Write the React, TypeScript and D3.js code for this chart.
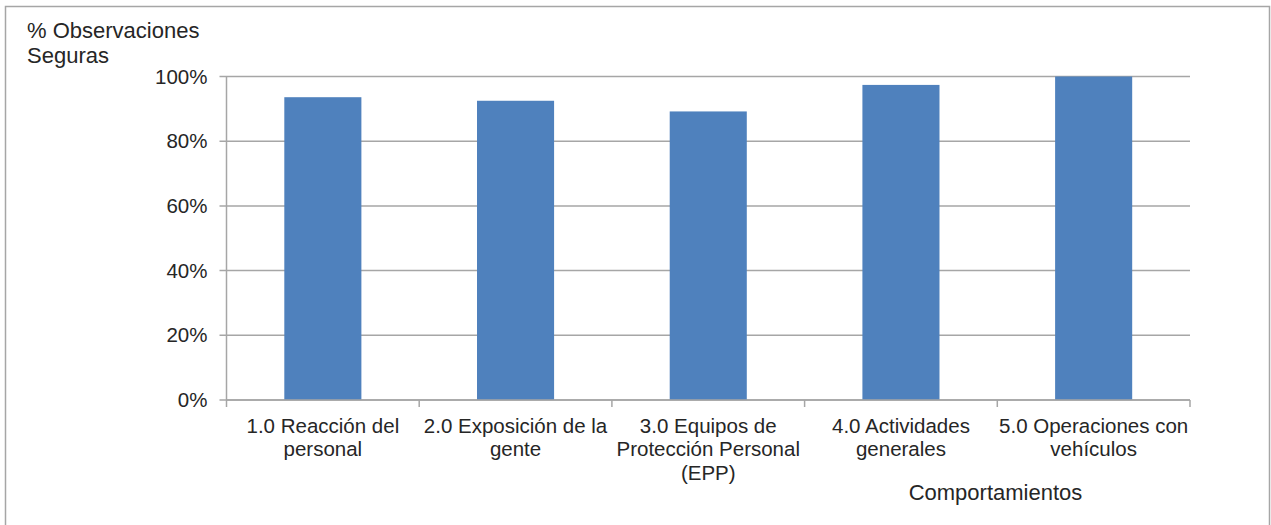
import React from 'react';
import * as d3 from 'd3';

const categories = [
  ['1.0 Reacción del', 'personal'],
  ['2.0 Exposición de la', 'gente'],
  ['3.0 Equipos de', 'Protección Personal', '(EPP)'],
  ['4.0 Actividades', 'generales'],
  ['5.0 Operaciones con', 'vehículos'],
];
const values = [0.936, 0.925, 0.892, 0.974, 1.0];
const yTicks = [0, 0.2, 0.4, 0.6, 0.8, 1.0];

const W = 1271, H = 525;
const left = 226.5, right = 1190, top = 76.5, bottom = 400;
const font = '"Liberation Sans", Arial, sans-serif';
const textColor = '#262626';
const gridColor = '#a6a6a6';

const App = () => {
  const keys = categories.map((c) => c.join(' '));
  const x = d3.scaleBand<string>().domain(keys).range([left, right]).paddingInner(0.6).paddingOuter(0.3);
  const y = d3.scaleLinear().domain([0, 1]).range([bottom, top]);
  const step = x.step();

  return (
    <svg width={W} height={H} style={{ position: 'absolute', left: 0, top: 0, background: '#fff' }} fontFamily={font}>
      <rect x={5.5} y={6.5} width={1264} height={540} fill="#fff" stroke={gridColor} strokeWidth={1.5} />
      {/* gridlines and y ticks */}
      {yTicks.map((t) => (
        <g key={t}>
          <line x1={left - 7} x2={right} y1={y(t)} y2={y(t)} stroke={gridColor} strokeWidth={1.5} />
          <text x={left - 19} y={y(t) + 7} textAnchor="end" fontSize={20.5} fill={textColor}>
            {d3.format('.0%')(t)}
          </text>
        </g>
      ))}
      {/* bars */}
      {values.map((v, i) => (
        <rect key={i} x={x(keys[i])} y={y(v)} width={x.bandwidth()} height={y(0) - y(v)} fill="#4f81bd" />
      ))}
      {/* axes */}
      <line x1={left} x2={left} y1={top} y2={bottom} stroke={gridColor} strokeWidth={1.5} />
      <line x1={left} x2={right} y1={bottom} y2={bottom} stroke={gridColor} strokeWidth={1.5} />
      {d3.range(keys.length + 1).map((i) => (
        <line key={i} x1={left + i * step} x2={left + i * step} y1={bottom} y2={bottom + 7} stroke={gridColor} strokeWidth={1.5} />
      ))}
      {/* category labels */}
      {categories.map((lines, i) => (
        <text key={i} textAnchor="middle" fontSize={20.5} fill={textColor}>
          {lines.map((l, j) => (
            <tspan key={j} x={x(keys[i])! + x.bandwidth() / 2} y={432.5 + j * 23.5}>
              {l}
            </tspan>
          ))}
        </text>
      ))}
      {/* axis titles */}
      <text fontSize={22} fill={textColor}>
        <tspan x={27} y={38}>% Observaciones</tspan>
        <tspan x={27} y={62.5}>Seguras</tspan>
      </text>
      <text x={995.5} y={500} textAnchor="middle" fontSize={22} fill={textColor}>
        Comportamientos
      </text>
    </svg>
  );
};

export default App;
